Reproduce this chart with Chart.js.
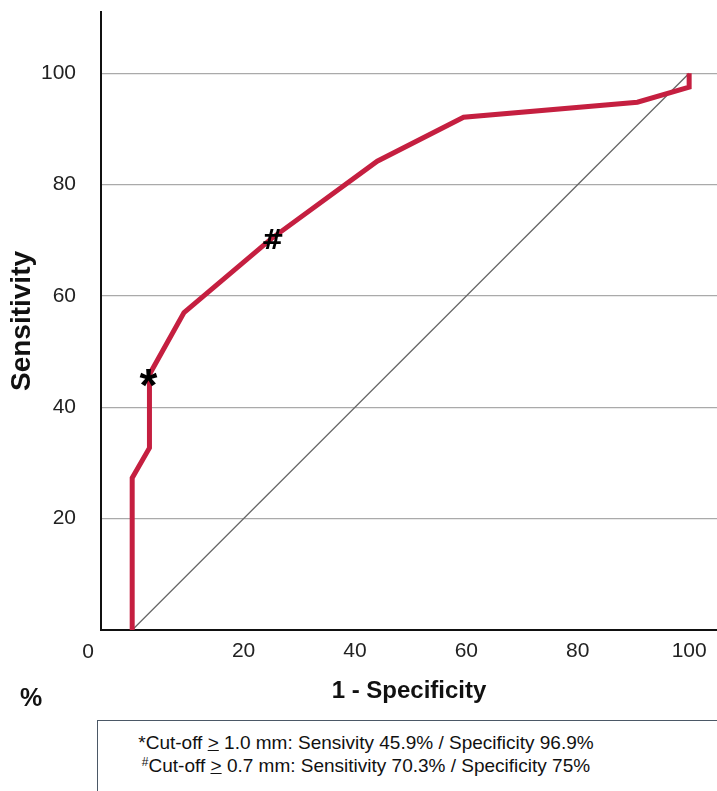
<!DOCTYPE html>
<html lang="en">
<head>
  <meta charset="UTF-8" />
  <title>ROC curve</title>
  <script src="https://cdn.jsdelivr.net/npm/chart.js"></script>
  <style>
    body { margin: 0; background: #fff; font-family: "Liberation Sans", Arial, sans-serif; color: #111; }
    .wrap { position: relative; width: 717px; height: 791px; overflow: hidden; }
    .chart-box { position: absolute; left: 0; top: 0; width: 717px; height: 720px; }
    .pct { position: absolute; left: 20px; top: 683px; font-size: 25px; font-weight: bold; }
    .note-box { position: absolute; left: 97px; top: 720px; width: 640px; height: 90px;
                border-top: 1.5px solid #4b5866; border-left: 1.5px solid #4b5866; }
    .note { position: absolute; left: 106px; width: 520px; top: 731px; text-align: center;
            font-size: 19px; line-height: 23px; white-space: nowrap; }
    .note sup { font-size: 12px; vertical-align: 6px; line-height: 0; }
  </style>
</head>
<body>
  <div class="wrap">
    <div class="chart-box"><canvas id="rocChart"></canvas></div>
    <div class="pct">%</div>
    <div class="note-box"></div>
    <div class="note">
      *Cut-off <u>&gt;</u> 1.0 mm: Sensivity 45.9% / Specificity 96.9%<br>
      <sup>#</sup>Cut-off <u>&gt;</u> 0.7 mm: Sensitivity 70.3% / Specificity 75%
    </div>
  </div>

  <script>
    // ROC curve (1 - specificity, sensitivity)
    const fpr = [0, 0, 3.1, 3.1, 9.3, 25, 44, 59.5, 90.7, 100, 100];
    const sens = [0, 27.3, 32.7, 45.9, 57, 70.3, 84.2, 92.1, 94.8, 97.5, 100];

    // reference diagonal
    const diagX = [0, 100];
    const diagY = [0, 100];

    // marked cut-off points
    const cutLabels = ['*', '#'];
    const cutX = [3.1, 25];
    const cutY = [45.9, 70.3];

    const tickValues = [20, 40, 60, 80, 100];

    const FONT = '"Liberation Sans", Arial, sans-serif';

    // draws the * and # symbols on the curve, and the lone "0" under the origin
    const markerPlugin = {
      id: 'markers',
      afterDatasetsDraw(chart, args, opts) {
        const { ctx, scales } = chart;
        ctx.save();
        ctx.fillStyle = '#000';
        cutLabels.forEach((lab, i) => {
          ctx.font = 'bold ' + opts.sizes[i] + 'px ' + opts.fonts[i];
          const m = ctx.measureText(lab);
          const px = scales.x.getPixelForValue(cutX[i]) + opts.shiftX[i];
          const py = scales.y.getPixelForValue(cutY[i]) + opts.shiftY[i];
          const w = m.actualBoundingBoxLeft + m.actualBoundingBoxRight;
          const h = m.actualBoundingBoxAscent + m.actualBoundingBoxDescent;
          ctx.textBaseline = 'alphabetic';
          ctx.textAlign = 'left';
          ctx.fillText(lab, px - w / 2 + m.actualBoundingBoxLeft, py + h / 2 - m.actualBoundingBoxDescent);
        });
        // origin label sits left of the data zero
        ctx.font = '21px ' + FONT;
        ctx.fillStyle = '#222';
        ctx.textAlign = 'center';
        ctx.textBaseline = 'middle';
        ctx.fillText('0', scales.x.left - 13, scales.x.top + 22);
        ctx.restore();
      }
    };

    const ctx = document.getElementById('rocChart').getContext('2d');
    const rocChart = new Chart(ctx, {
      type: 'line',
      data: {
        datasets: [
          {
            label: 'Reference',
            data: diagX.map((x, i) => ({ x: x, y: diagY[i] })),
            borderColor: '#666',
            borderWidth: 1.3,
            pointRadius: 0,
            order: 2
          },
          {
            label: 'ROC',
            data: fpr.map((x, i) => ({ x: x, y: sens[i] })),
            borderColor: '#c51f40',
            borderWidth: 5,
            borderJoinStyle: 'miter',
            pointRadius: 0,
            tension: 0,
            order: 1
          }
        ]
      },
      options: {
        responsive: true,
        maintainAspectRatio: false,
        animation: false,
        layout: { padding: { top: 12, right: 0, left: 0, bottom: 0 } },
        plugins: {
          legend: { display: false },
          tooltip: { enabled: false },
          markers: {
            sizes: [46, 27],
            fonts: [FONT, '"DejaVu Sans", sans-serif'],
            shiftX: [-1, 1],
            shiftY: [4, 0]
          }
        },
        scales: {
          x: {
            type: 'linear',
            min: -5.6,
            max: 105,
            afterBuildTicks: (s) => { s.ticks = tickValues.map(v => ({ value: v })); },
            afterFit: (s) => { s.height = 90; s.paddingLeft = 0; s.paddingRight = 0; },
            grid: { display: false, drawTicks: false },
            border: { display: true, color: '#111', width: 2 },
            ticks: { padding: 9, color: '#222', font: { family: FONT, size: 21 }, maxRotation: 0 },
            title: {
              display: true,
              text: '1 - Specificity',
              color: '#111',
              font: { family: FONT, size: 24, weight: 'bold' },
              padding: { top: 0, bottom: 14 }
            }
          },
          y: {
            type: 'linear',
            min: 0,
            max: 111,
            afterBuildTicks: (s) => { s.ticks = tickValues.map(v => ({ value: v })); },
            afterFit: (s) => { s.width = 101; s.paddingTop = 0; s.paddingBottom = 0; },
            grid: { color: '#aaa', lineWidth: 1.3, drawTicks: false },
            border: { display: true, color: '#111', width: 2 },
            ticks: { padding: 25, color: '#222', font: { family: FONT, size: 21 } },
            title: {
              display: true,
              text: 'Sensitivity',
              color: '#111',
              font: { family: FONT, size: 28, weight: 'bold' },
              padding: { top: 5, bottom: 0 }
            }
          }
        }
      },
      plugins: [markerPlugin]
    });
  </script>
</body>
</html>
